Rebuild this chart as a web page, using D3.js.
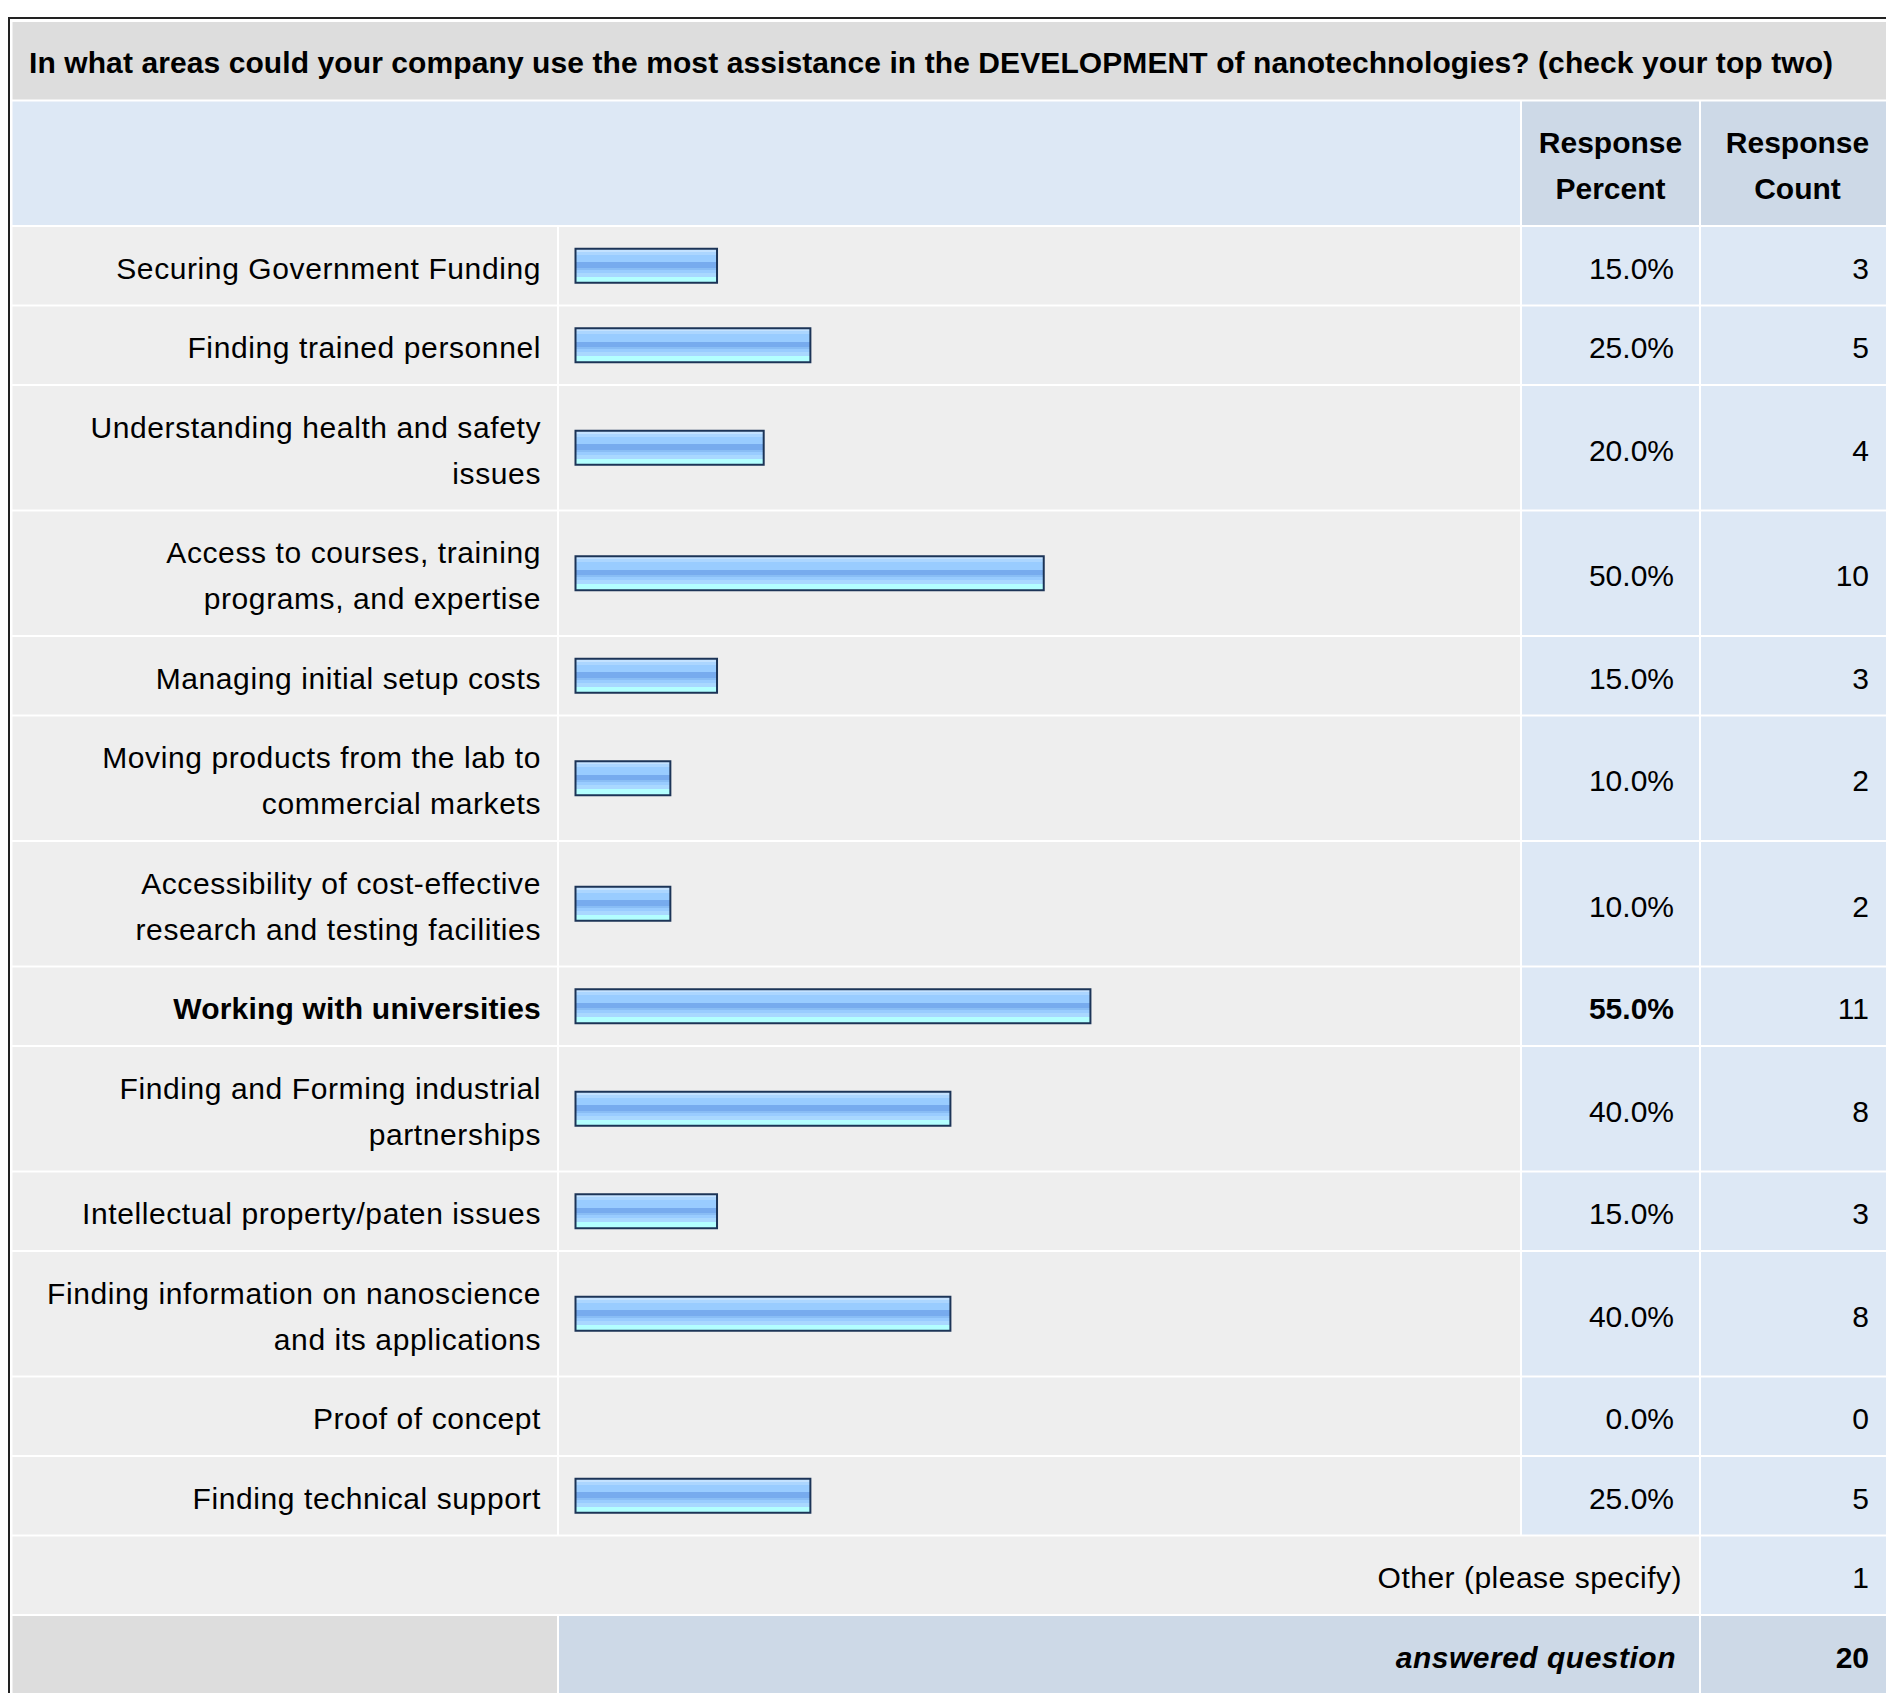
<!DOCTYPE html>
<html>
<head>
<meta charset="utf-8">
<script src="https://cdn.jsdelivr.net/npm/d3@7"></script>
<style>
  body { margin: 0; background: #fff; }
  text { font-family: "Liberation Sans", Arial, sans-serif; fill: #000; }
</style>
</head>
<body>
<div class="chart"></div>
<script>
// question + table content
const title = "In what areas could your company use the most assistance in the DEVELOPMENT of nanotechnologies? (check your top two)";
const headers = [["Response", "Percent"], ["Response", "Count"]];

const labels = [
    ["Securing Government Funding"],
    ["Finding trained personnel"],
    ["Understanding health and safety", "issues"],
    ["Access to courses, training", "programs, and expertise"],
    ["Managing initial setup costs"],
    ["Moving products from the lab to", "commercial markets"],
    ["Accessibility of cost-effective", "research and testing facilities"],
    ["Working with universities"],
    ["Finding and Forming industrial", "partnerships"],
    ["Intellectual property/paten issues"],
    ["Finding information on nanoscience", "and its applications"],
    ["Proof of concept"],
    ["Finding technical support"]
];
const percents = [15.0, 25.0, 20.0, 50.0, 15.0, 10.0, 10.0, 55.0, 40.0, 15.0, 40.0, 0.0, 25.0];
const counts = [3, 5, 4, 10, 3, 2, 2, 11, 8, 3, 8, 0, 5];

const otherLabel = "Other (please specify)";
const otherCount = 1;
const answeredLabel = "answered question";
const answeredCount = 20;

const width = 1886, height = 1693;
const fs = 30, lineH = 46, gap = 2;
const cellH = n => 31.5 + lineH * n;

// column edges
const colLeft = 12.5, labelEnd = 557, barStart = 559, pctStart = 1522, pctEnd = 1699, cntStart = 1701, cntEnd = 1894;

// bars start at barX0, right edge from the scale (borders give a small minimum)
const barX0 = 574.5;
const xScale = d3.scaleLinear()
    .domain([0, 100])
    .range([578, 1511.5]);

const maxPct = d3.max(percents);
const pctFormat = d3.format(".1f");

var svg = d3.select(".chart")
    .append("svg")
    .attr("width", width)
    .attr("height", height);

// bar gradient (hard stripes)
const stripes = [
    [0, "#c4e2ff"], [0.088, "#acd6ff"], [0.176, "#99ccff"], [0.403, "#77abee"],
    [0.559, "#89bdf5"], [0.618, "#99ccff"], [0.706, "#a9d8ff"], [0.824, "#b3ffff"], [1, "#b3ffff"]
];
var grad = svg.append("defs").append("linearGradient")
    .attr("id", "barGrad")
    .attr("x1", 0).attr("y1", 0).attr("x2", 0).attr("y2", 1);
stripes.forEach((s, i) => {
    if (i > 0) grad.append("stop").attr("offset", s[0]).attr("stop-color", stripes[i - 1][1]);
    grad.append("stop").attr("offset", s[0]).attr("stop-color", s[1]);
});

// outer frame
svg.append("rect")
    .attr("x", 9).attr("y", 18)
    .attr("width", width + 20).attr("height", height + 20)
    .attr("fill", "none")
    .attr("stroke", "#222")
    .attr("stroke-width", 2);

// title row
const titleY = 22, titleH = cellH(1);
svg.append("rect")
    .attr("x", colLeft).attr("y", titleY)
    .attr("width", cntEnd - colLeft).attr("height", titleH)
    .attr("fill", "#dddddd");
svg.append("text")
    .text(title)
    .attr("x", 29)
    .attr("y", titleY + titleH / 2 + 12)
    .attr("font-size", fs)
    .attr("font-weight", "bold")
    .attr("letter-spacing", 0.09);

// header row
const headY = titleY + titleH + gap, headH = cellH(2);
svg.append("rect")
    .attr("x", colLeft).attr("y", headY)
    .attr("width", pctStart - gap - colLeft).attr("height", headH)
    .attr("fill", "#dde8f5");
const headCols = [[pctStart, pctEnd], [cntStart, cntEnd]];
headCols.forEach((c, i) => {
    svg.append("rect")
        .attr("x", c[0]).attr("y", headY)
        .attr("width", c[1] - c[0]).attr("height", headH)
        .attr("fill", "#cdd9e7");
    headers[i].forEach((t, j) => {
        svg.append("text")
            .text(t)
            .attr("x", (c[0] + c[1]) / 2)
            .attr("y", headY + headH / 2 + (j - 0.5) * lineH + 12.5)
            .attr("text-anchor", "middle")
            .attr("font-size", fs)
            .attr("font-weight", "bold");
    });
});

// answer rows
var rowTops = [];
var yy = headY + headH + gap;
labels.forEach(l => { rowTops.push(yy); yy += cellH(l.length) + gap; });
const rows = labels.map((l, i) => ({
    lines: l, pct: percents[i], count: counts[i],
    y: rowTops[i], h: cellH(l.length), bold: percents[i] === maxPct
}));

var rowG = svg.selectAll("g.row")
    .data(rows)
    .enter()
    .append("g")
    .attr("class", "row")
    .attr("transform", d => `translate(0, ${d.y})`);

rowG.append("rect").attr("x", colLeft).attr("width", labelEnd - colLeft).attr("height", d => d.h).attr("fill", "#eeeeee");
rowG.append("rect").attr("x", barStart).attr("width", pctStart - gap - barStart).attr("height", d => d.h).attr("fill", "#eeeeee");
rowG.append("rect").attr("x", pctStart).attr("width", pctEnd - pctStart).attr("height", d => d.h).attr("fill", "#dde8f5");
rowG.append("rect").attr("x", cntStart).attr("width", cntEnd - cntStart).attr("height", d => d.h).attr("fill", "#dde8f5");

rowG.each(function(d) {
    const g = d3.select(this);
    d.lines.forEach((t, j) => {
        g.append("text")
            .text(t)
            .attr("x", 541)
            .attr("y", d.h / 2 + (j - (d.lines.length - 1) / 2) * lineH + 13)
            .attr("text-anchor", "end")
            .attr("font-size", fs)
            .attr("letter-spacing", d.bold ? 0.2 : 0.6)
            .attr("font-weight", d.bold ? "bold" : "normal");
    });
});

rowG.filter(d => d.pct > 0)
    .append("rect")
    .attr("x", barX0 + 1)
    .attr("y", d => d.h / 2 - 17)
    .attr("width", d => xScale(d.pct) - barX0 - 2)
    .attr("height", 34)
    .attr("fill", "url(#barGrad)")
    .attr("stroke", "#1c3457")
    .attr("stroke-width", 2);

rowG.append("text")
    .text(d => pctFormat(d.pct) + "%")
    .attr("x", 1674)
    .attr("y", d => d.h / 2 + 13)
    .attr("text-anchor", "end")
    .attr("font-size", fs)
    .attr("font-weight", d => d.bold ? "bold" : "normal");

rowG.append("text")
    .text(d => d.count)
    .attr("x", 1869)
    .attr("y", d => d.h / 2 + 13)
    .attr("text-anchor", "end")
    .attr("font-size", fs);

// other row
const otherY = yy, otherH = cellH(1);
svg.append("rect").attr("x", colLeft).attr("y", otherY).attr("width", pctEnd - colLeft).attr("height", otherH).attr("fill", "#eeeeee");
svg.append("rect").attr("x", cntStart).attr("y", otherY).attr("width", cntEnd - cntStart).attr("height", otherH).attr("fill", "#dde8f5");
svg.append("text")
    .text(otherLabel)
    .attr("x", 1682).attr("y", otherY + otherH / 2 + 13)
    .attr("text-anchor", "end")
    .attr("font-size", fs)
    .attr("letter-spacing", 0.5);
svg.append("text")
    .text(otherCount)
    .attr("x", 1869).attr("y", otherY + otherH / 2 + 13)
    .attr("text-anchor", "end")
    .attr("font-size", fs);

// answered row
const ansY = otherY + otherH + gap, ansH = cellH(1);
svg.append("rect").attr("x", colLeft).attr("y", ansY).attr("width", labelEnd - colLeft).attr("height", ansH).attr("fill", "#dddddd");
svg.append("rect").attr("x", barStart).attr("y", ansY).attr("width", pctEnd - barStart).attr("height", ansH).attr("fill", "#cdd9e7");
svg.append("rect").attr("x", cntStart).attr("y", ansY).attr("width", cntEnd - cntStart).attr("height", ansH).attr("fill", "#cdd9e7");
svg.append("text")
    .text(answeredLabel)
    .attr("x", 1676).attr("y", ansY + ansH / 2 + 13)
    .attr("text-anchor", "end")
    .attr("font-size", fs)
    .attr("font-weight", "bold")
    .attr("font-style", "italic")
    .attr("letter-spacing", 0.5);
svg.append("text")
    .text(answeredCount)
    .attr("x", 1869).attr("y", ansY + ansH / 2 + 13)
    .attr("text-anchor", "end")
    .attr("font-size", fs)
    .attr("font-weight", "bold");
</script>
</body>
</html>
